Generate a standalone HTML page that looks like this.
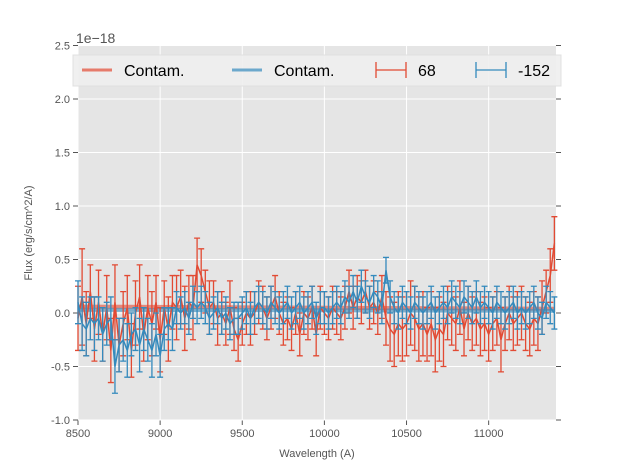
<!DOCTYPE html>
<html><head><meta charset="utf-8"><style>
body{margin:0;background:#fff;}
svg{display:block;font-family:"Liberation Sans",sans-serif;}
</style></head><body>
<svg id="c" width="617" height="467"></svg>
<script>
const waveStart=8500, waveStep=25;
const red68=[-0.05,0.15,-0.1,0.2,-0.15, 0.1,-0.2,0.05,-0.35,0.1, -0.3,-0.1,0.05,-0.35,0.0, 0.15,-0.2,0.05,-0.1,0.1,
-0.25,0.05,-0.15,0.1,0.05, 0.15,-0.05,0.1,0.05,0.45, 0.35,0.2,0.05,0.1,-0.05, 0.0,-0.1,0.05,-0.15,-0.25,
-0.1,0.0,-0.05,0.0,0.1, 0.05,-0.05,0.05,0.15,0.0, -0.1,-0.05,-0.15,0.0,-0.2, 0.0,-0.05,0.05,-0.2,0.05,
0.0,-0.05,0.05,0.0,-0.05, 0.05,0.2,0.05,0.15,0.1, 0.2,0.05,0.1,0.0,0.15, -0.05,-0.15,-0.2,-0.1,-0.15,
-0.1,0.0,-0.05,-0.15,-0.1, -0.2,-0.1,-0.25,-0.15,-0.2, 0.0,-0.05,-0.1,0.05,-0.15, 0.0,-0.1,-0.05,-0.15,-0.1,
-0.2,-0.1,-0.05,-0.25,-0.1, 0.0,-0.1,-0.05,0.0,-0.1, -0.15,-0.05,-0.1,0.05,0.2, 0.35,0.65];
const blue152=[0.1,-0.1,-0.15,-0.05,-0.1, -0.05,-0.2,-0.1,-0.05,-0.5, -0.3,-0.25,-0.35,-0.2,-0.15, -0.3,-0.15,-0.25,-0.35,-0.2,
-0.4,-0.15,-0.1,-0.15,0.05, 0.0,0.05,-0.05,0.1,0.05, 0.1,0.05,-0.05,0.0,0.05, -0.05,0.0,-0.1,-0.05,-0.05,
0.0,0.05,-0.05,0.05,0.1, 0.05,0.0,0.1,0.05,0.0, 0.05,0.1,0.0,0.05,0.1, 0.0,0.05,0.1,-0.05,0.05,
0.05,0.0,0.05,0.1,0.05, 0.15,0.1,0.2,0.1,0.25, 0.15,0.1,0.2,0.15,0.05, 0.4,0.15,0.05,0.0,0.1,
0.05,0.0,0.1,0.05,0.0, 0.05,0.1,0.0,0.05,0.1, 0.05,0.15,0.1,0.05,0.15, 0.1,0.05,0.15,0.05,0.1,
0.05,0.0,0.1,0.05,0.0, 0.05,0.1,0.0,0.05,0.0, 0.05,0.1,0.0,-0.05,0.1, 0.05,0.0];
const redErr=[0.3,0.45,0.3,0.25,0.3, 0.3,0.25,0.3,0.3,0.35, 0.25,0.3,0.3,0.25,0.3, 0.3,0.25,0.3,0.3,0.25,
0.3,0.25,0.3,0.25,0.3, 0.25,0.3,0.25,0.3,0.25, 0.25,0.2,0.25,0.2,0.25, 0.2,0.2,0.25,0.2,0.2,
0.2,0.2,0.25,0.2,0.2, 0.2,0.2,0.2,0.2,0.2, 0.2,0.2,0.2,0.2,0.2, 0.2,0.2,0.2,0.2,0.2,
0.2,0.2,0.2,0.2,0.2, 0.2,0.2,0.2,0.2,0.2, 0.2,0.2,0.2,0.2,0.2, 0.25,0.3,0.3,0.3,0.3,
0.3,0.3,0.3,0.3,0.3, 0.25,0.3,0.3,0.3,0.3, 0.25,0.25,0.25,0.25,0.25, 0.25,0.25,0.25,0.25,0.25,
0.25,0.25,0.25,0.3,0.25, 0.25,0.25,0.25,0.25,0.25, 0.25,0.25,0.25,0.25,0.2, 0.25,0.25];
const blueErr=[0.2,0.25,0.25,0.2,0.25, 0.2,0.25,0.2,0.2,0.25, 0.25,0.2,0.25,0.2,0.2, 0.25,0.2,0.2,0.25,0.2,
0.2,0.2,0.15,0.2,0.15, 0.15,0.15,0.15,0.15,0.15, 0.15,0.15,0.15,0.15,0.15, 0.15,0.15,0.15,0.15,0.15,
0.15,0.15,0.15,0.15,0.15, 0.15,0.15,0.15,0.15,0.15, 0.15,0.15,0.15,0.15,0.15, 0.15,0.15,0.15,0.15,0.15,
0.15,0.15,0.15,0.15,0.15, 0.15,0.15,0.15,0.15,0.15, 0.15,0.15,0.15,0.15,0.15, 0.12,0.15,0.15,0.15,0.15,
0.15,0.15,0.15,0.15,0.15, 0.15,0.15,0.15,0.15,0.15, 0.15,0.15,0.15,0.15,0.15, 0.15,0.15,0.15,0.15,0.15,
0.15,0.15,0.15,0.15,0.15, 0.15,0.15,0.15,0.15,0.15, 0.15,0.15,0.15,0.15,0.15, 0.15,0.15];
const contamRed=[0.06,0.04];
const contamBlue=[0.03,0.02];
const xTicks=[8500,9000,9500,10000,10500,11000];
const yTicks=[-1.0,-0.5,0.0,0.5,1.0,1.5,2.0,2.5];

const X0=78,X1=556,Y0=420,Y1=45.5,xmin=8500,xmax=11410,ymin=-1,ymax=2.5;
const sx=v=>X0+(v-xmin)/(xmax-xmin)*(X1-X0);
const sy=v=>Y0-(v-ymin)/(ymax-ymin)*(Y0-Y1);
const svg=document.getElementById('c');
const NS='http://www.w3.org/2000/svg';
function mk(t,a,p){const e=document.createElementNS(NS,t);for(const k in a)e.setAttribute(k,a[k]);(p||svg).appendChild(e);return e;}

const bg=mk('rect',{x:X0,y:Y1,width:X1-X0,height:Y0-Y1,fill:'#E5E5E5'});


xTicks.forEach(t=>{const x=sx(t);
 const g=mk('line',{x1:x,x2:x,y1:Y1,y2:Y0,stroke:'#fff','stroke-width':1});
 
 
 mk('line',{x1:x,x2:x,y1:Y0,y2:Y0+5,stroke:'#555'});
 const l=mk('text',{x:x,y:Y0+17,'font-size':11,fill:'#555','text-anchor':'middle'});l.textContent=t;
 
 
});
yTicks.forEach(t=>{const y=sy(t);
 const g=mk('line',{x1:X0,x2:X1,y1:y,y2:y,stroke:'#fff','stroke-width':1});
 
 
 mk('line',{x1:X0-5,x2:X0,y1:y,y2:y,stroke:'#555'});
 mk('line',{x1:X1,x2:X1+5,y1:y,y2:y,stroke:'#555'});
 const l=mk('text',{x:X0-8,y:y+4,'font-size':11,fill:'#555','text-anchor':'end'});l.textContent=t.toFixed(1);
 
 
});
function contam(vals,col,name){
 const wEnd=waveStart+waveStep*(red68.length-1);
 const l=mk('line',{x1:sx(waveStart),x2:sx(wEnd),y1:sy(vals[0]),y2:sy(vals[1]),stroke:col,'stroke-width':4,'stroke-opacity':0.6});
 
 
}
contam(contamRed,'#E24A33','contam-line-red');
contam(contamBlue,'#348ABD','contam-line-blue');
function series(vals,errs,col,name){
 const g=mk('g',{});
 
 
 let d='';
 vals.forEach((v,i)=>{const x=sx(waveStart+i*waveStep);
  const a=sy(v+errs[i]),b=sy(v-errs[i]);
  mk('path',{d:`M${x},${a}V${b}M${x-3},${a}h6M${x-3},${b}h6`,stroke:col,'stroke-width':1.3,fill:'none'},g);
  d+=(i?'L':'M')+x+','+sy(v);
 });
 mk('path',{d:d,stroke:col,'stroke-width':1.5,fill:'none'},g);
}
series(red68,redErr,'#E24A33','series-68');
series(blue152,blueErr,'#348ABD','series-minus152');

const off=mk('text',{x:76,y:43,'font-size':14,fill:'#555'});off.textContent='1e\u221218';


const xt=mk('text',{x:317,y:457,'font-size':11,fill:'#555','text-anchor':'middle'});xt.textContent='Wavelength (A)';


const yt=mk('text',{x:32,y:233,'font-size':11,fill:'#555','text-anchor':'middle',transform:'rotate(-90 32 233)'});yt.textContent='Flux (erg/s/cm^2/A)';



const lg=mk('g',{});


mk('rect',{x:73,y:55,width:488,height:31,fill:'#EEEEEE','fill-opacity':0.9,stroke:'#e0e0e0'},lg);
const entries=[['Contam.','#E24A33',82,'line'],['Contam.','#348ABD',232,'line'],['68','#E24A33',376,'err'],['-152','#348ABD',476,'err']];
entries.forEach(e=>{const [t,c,x,k]=e;
 const eg=mk('g',{},lg);
 
 
 if(k==='line') mk('line',{x1:x,x2:x+30,y1:70,y2:70,stroke:c,'stroke-width':3,'stroke-opacity':0.7},eg);
 else mk('path',{d:`M${x},70h30M${x},62v16M${x+30},62v16`,stroke:c,'stroke-width':1.3,fill:'none'},eg);
 const tx=mk('text',{x:x+42,y:76,'font-size':16,fill:'#000'},eg);tx.textContent=t;
});
</script>
</body></html>
